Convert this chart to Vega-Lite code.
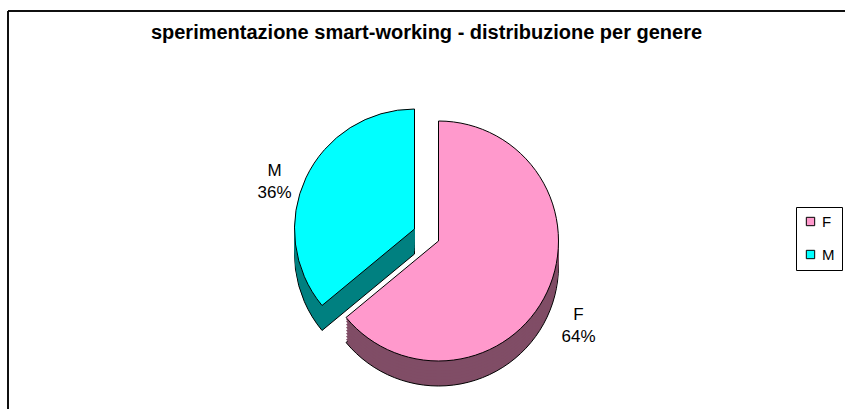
{
  "$schema": "https://vega.github.io/schema/vega-lite/v6.json",
  "width": 837,
  "height": 398,
  "autosize": {"type": "none"},
  "padding": {"left": 8, "top": 11, "right": 0, "bottom": 0},
  "background": "white",
  "view": {"stroke": null},
  "config": {
    "view": {"stroke": null},
    "font": "Liberation Sans",
    "legend": {
      "orient": "none", "legendX": 788, "legendY": 196,
      "strokeColor": "black", "fillColor": "white", "padding": 7,
      "symbolType": "square", "symbolSize": 70, "symbolStrokeColor": "black", "symbolStrokeWidth": 1,
      "labelFont": "Liberation Sans", "labelFontSize": 15, "labelColor": "black", "rowPadding": 17, "labelOffset": 4
    }
  },
  "title": {
    "text": "sperimentazione smart-working - distribuzione per genere",
    "font": "Liberation Sans", "fontSize": 20, "fontWeight": "bold", "color": "black",
    "anchor": "middle", "orient": "top", "offset": -49, "baseline": "alphabetic"
  },
  "data": {"values": [
    {"genere": "F", "percentuale": 64},
    {"genere": "M", "percentuale": 36}
  ]},
  "transform": [
    {"stack": "percentuale", "groupby": [], "sort": [{"field": "genere", "order": "ascending"}], "as": ["t0", "t1"]},
    {"calculate": "(datum.t0 + datum.t1) / 2", "as": "tm"},
    {"calculate": "datum.genere + '\\n' + datum.percentuale + '%'", "as": "etichetta"}
  ],
  "encoding": {
    "theta": {"field": "t0", "type": "quantitative", "scale": {"domain": [0, 100], "range": [0, 6.283185]}},
    "theta2": {"field": "t1"}
  },
  "layer": [
    {"mark": {"type": "rule", "color": "black", "strokeWidth": 1.5}, "encoding": {"y": {"value": 0}, "theta": null, "theta2": null}},
    {"mark": {"type": "rule", "color": "black", "strokeWidth": 1.5}, "encoding": {"x": {"value": 0}, "theta": null, "theta2": null}},
    {"transform": [{"filter": "datum.genere === 'M'"}], "mark": {"type": "arc", "outerRadius": 120, "color": "#008080", "stroke": "black", "strokeWidth": 1, "xOffset": -12, "yOffset": 44}},
    {"transform": [{"filter": "datum.genere === 'M'"}], "mark": {"type": "arc", "outerRadius": 120, "color": "#008080", "xOffset": -12, "yOffset": 41}},
    {"transform": [{"filter": "datum.genere === 'M'"}], "mark": {"type": "arc", "outerRadius": 120, "color": "#008080", "xOffset": -12, "yOffset": 38}},
    {"transform": [{"filter": "datum.genere === 'M'"}], "mark": {"type": "arc", "outerRadius": 120, "color": "#008080", "xOffset": -12, "yOffset": 35}},
    {"transform": [{"filter": "datum.genere === 'M'"}], "mark": {"type": "arc", "outerRadius": 120, "color": "#008080", "xOffset": -12, "yOffset": 32}},
    {"transform": [{"filter": "datum.genere === 'M'"}], "mark": {"type": "arc", "outerRadius": 120, "color": "#008080", "xOffset": -12, "yOffset": 29}},
    {"transform": [{"filter": "datum.genere === 'M'"}], "mark": {"type": "arc", "outerRadius": 120, "color": "#008080", "xOffset": -12, "yOffset": 26}},
    {"transform": [{"filter": "datum.genere === 'M'"}], "mark": {"type": "arc", "outerRadius": 120, "color": "#008080", "xOffset": -12, "yOffset": 23}},
    {"transform": [{"filter": "datum.genere === 'M'"}], "mark": {"type": "arc", "outerRadius": 120, "color": "#008080", "xOffset": -12, "yOffset": 21}},
    {"transform": [{"filter": "datum.genere === 'M'"}], "mark": {"type": "arc", "outerRadius": 120, "stroke": "black", "strokeWidth": 1, "xOffset": -12, "yOffset": 19},
     "encoding": {"color": {"field": "genere", "type": "nominal", "title": null, "scale": {"domain": ["F", "M"], "range": ["#FF99CC", "#00FFFF"]}}}},
    {"transform": [{"filter": "datum.genere === 'F'"}], "mark": {"type": "arc", "outerRadius": 120, "color": "#804D66", "stroke": "black", "strokeWidth": 1, "xOffset": 12, "yOffset": 56}},
    {"transform": [{"filter": "datum.genere === 'F'"}], "mark": {"type": "arc", "outerRadius": 120, "color": "#804D66", "xOffset": 12, "yOffset": 53}},
    {"transform": [{"filter": "datum.genere === 'F'"}], "mark": {"type": "arc", "outerRadius": 120, "color": "#804D66", "xOffset": 12, "yOffset": 50}},
    {"transform": [{"filter": "datum.genere === 'F'"}], "mark": {"type": "arc", "outerRadius": 120, "color": "#804D66", "xOffset": 12, "yOffset": 47}},
    {"transform": [{"filter": "datum.genere === 'F'"}], "mark": {"type": "arc", "outerRadius": 120, "color": "#804D66", "xOffset": 12, "yOffset": 44}},
    {"transform": [{"filter": "datum.genere === 'F'"}], "mark": {"type": "arc", "outerRadius": 120, "color": "#804D66", "xOffset": 12, "yOffset": 41}},
    {"transform": [{"filter": "datum.genere === 'F'"}], "mark": {"type": "arc", "outerRadius": 120, "color": "#804D66", "xOffset": 12, "yOffset": 38}},
    {"transform": [{"filter": "datum.genere === 'F'"}], "mark": {"type": "arc", "outerRadius": 120, "color": "#804D66", "xOffset": 12, "yOffset": 35}},
    {"transform": [{"filter": "datum.genere === 'F'"}], "mark": {"type": "arc", "outerRadius": 120, "color": "#804D66", "xOffset": 12, "yOffset": 33}},
    {"transform": [{"filter": "datum.genere === 'F'"}], "mark": {"type": "arc", "outerRadius": 120, "stroke": "black", "strokeWidth": 1, "xOffset": 12, "yOffset": 31},
     "encoding": {"color": {"field": "genere", "type": "nominal", "title": null, "scale": {"domain": ["F", "M"], "range": ["#FF99CC", "#00FFFF"]}}}},
    {"mark": {"type": "text", "radius": 168, "fontSize": 17, "font": "Liberation Sans", "color": "black", "lineBreak": "\n", "lineHeight": 22, "align": "center", "baseline": "middle", "yOffset": 33},
     "encoding": {"theta": {"field": "tm", "type": "quantitative", "scale": {"domain": [0, 100], "range": [0, 6.283185]}}, "theta2": null, "text": {"field": "etichetta"}}}
  ]
}
